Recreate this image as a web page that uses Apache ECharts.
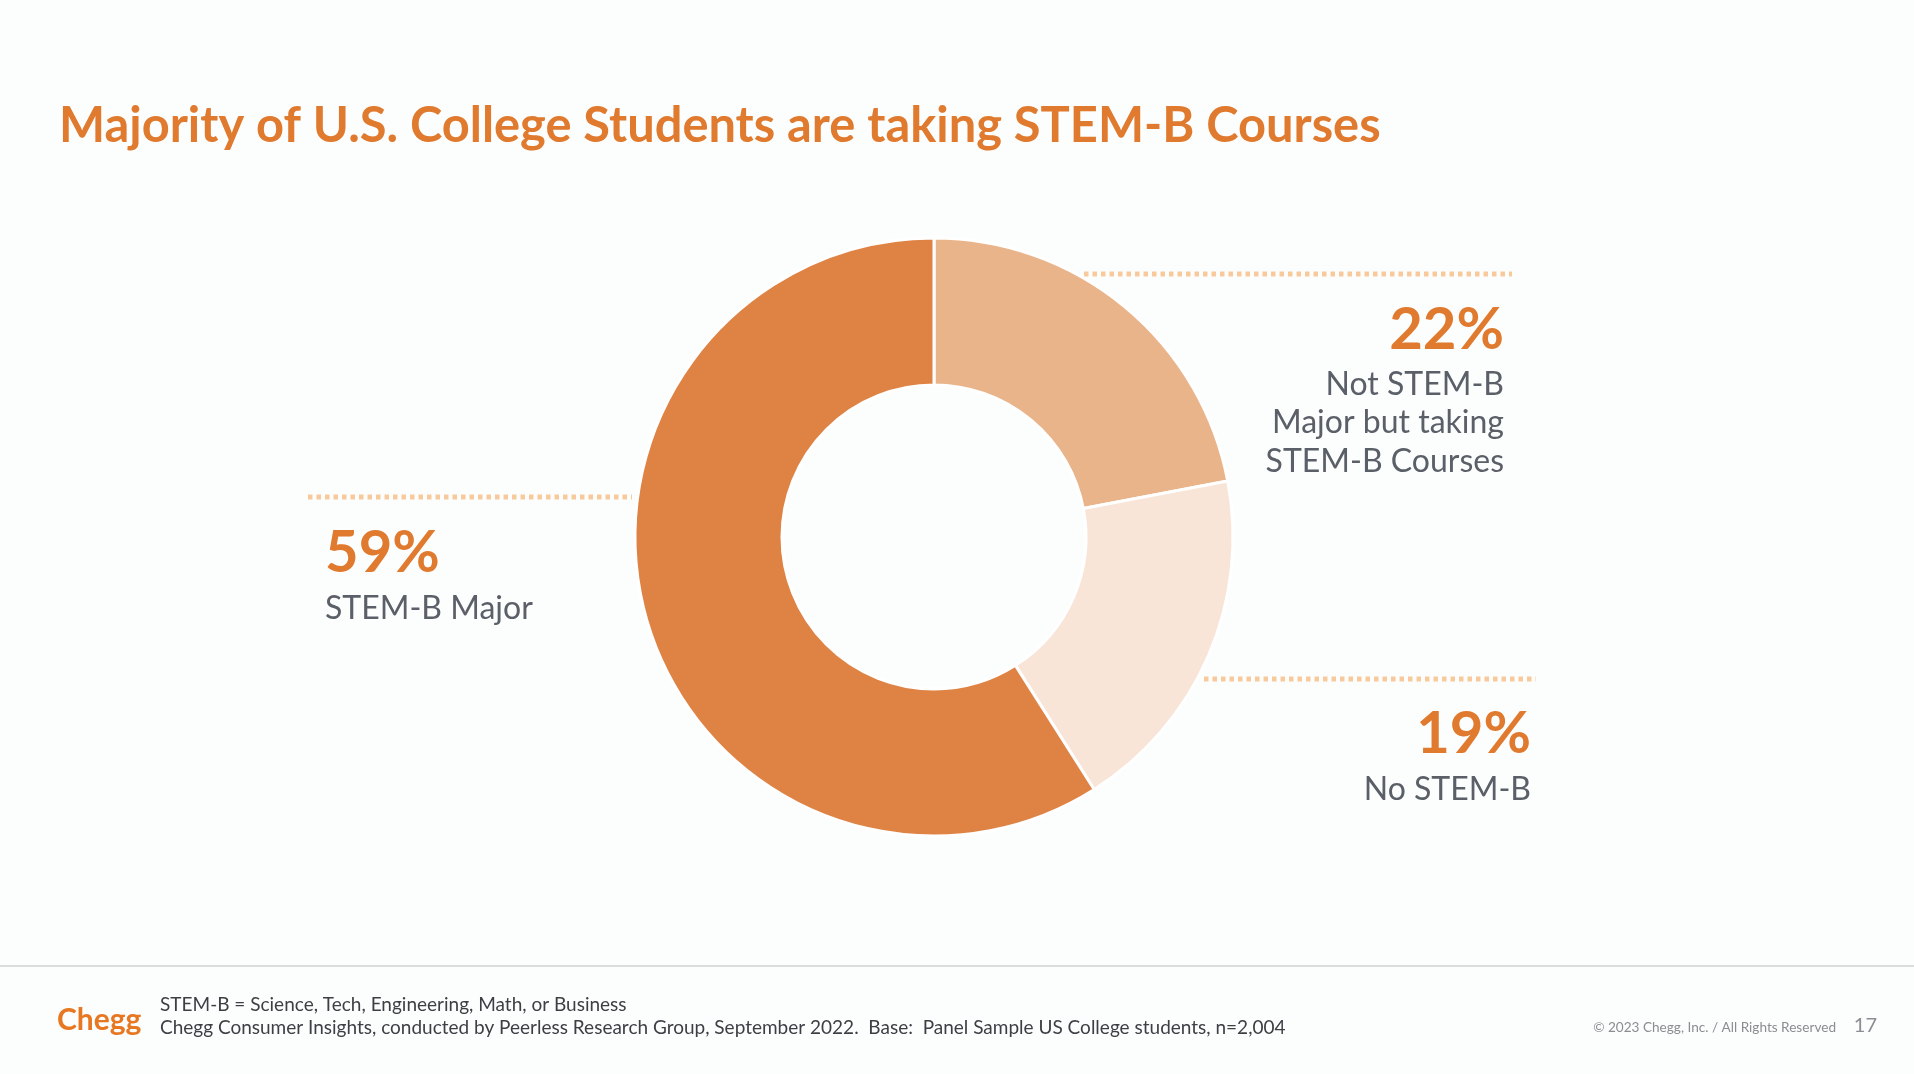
<!DOCTYPE html>
<html>
<head>
<meta charset="utf-8">
<script src="https://cdn.jsdelivr.net/npm/echarts@6/dist/echarts.min.js"></script>
<style>
html,body{margin:0;padding:0;background:#fcfefe;}
#c{width:1914px;height:1074px;}
</style>
</head>
<body>
<div id="c"></div>
<script>
var titleText = 'Majority of U.S. College Students are taking STEM-B Courses';
var categories = ['Not STEM-B Major but taking STEM-B Courses', 'No STEM-B', 'STEM-B Major'];
var labelLines = [['Not STEM-B', 'Major but taking', 'STEM-B Courses'], ['No STEM-B'], ['STEM-B Major']];
var values = [22, 19, 59];
var colors = ['#eab48a', '#f8e5d8', '#df8345'];
var footnotes = ['STEM-B = Science, Tech, Engineering, Math, or Business',
  'Chegg Consumer Insights, conducted by Peerless Research Group, September 2022.  Base:  Panel Sample US College students, n=2,004'];
var copyrightText = '\u00a9 2023 Chegg, Inc. / All Rights Reserved';
var pageNumber = '17';

var chart = echarts.init(document.getElementById('c'));
var orange = '#e07a2e';
var grey = '#5b6068';
var dotColor = '#f8ca9b';
var font = 'Lato, "Open Sans", sans-serif';

function dotted(x1, y1, x2) {
  return {type: 'line', shape: {x1: x1, y1: y1, x2: x2, y2: y1},
    style: {stroke: dotColor, lineWidth: 5, lineDash: [4.5, 4]}};
}
function txt(x, y, text, size, color, weight, align, lh) {
  return {type: 'text', x: x, y: y, style: {text: text, fontSize: size, fill: color,
    fontWeight: weight, fontFamily: font, align: align, verticalAlign: 'middle', lineHeight: lh || size}};
}

var graphics = [
  txt(59, 126, titleText, 48.8, orange, 'bold', 'left'),
  dotted(1084, 274, 1512),
  dotted(308, 497, 632),
  dotted(1204, 679, 1536),
  txt(1504, 330, values[0] + '%', 58, orange, 'bold', 'right'),
  txt(1504, 423, labelLines[0].join('\n'), 32, grey, 'normal', 'right', 38.5),
  txt(1531, 734, values[1] + '%', 58, orange, 'bold', 'right'),
  txt(1531, 790, labelLines[1].join('\n'), 32, grey, 'normal', 'right'),
  txt(325, 553, values[2] + '%', 58, orange, 'bold', 'left'),
  txt(325, 609, labelLines[2].join('\n'), 32, grey, 'normal', 'left'),
  {type: 'rect', shape: {x: 0, y: 965, width: 1914, height: 2}, style: {fill: '#dcdcdc'}},
  txt(57, 1020, 'Chegg', 30, '#e87722', 'bold', 'left'),
  txt(160, 1005, footnotes[0], 19, '#3c3f44', 'normal', 'left'),
  txt(160, 1028, footnotes[1], 19, '#3c3f44', 'normal', 'left'),
  txt(1836, 1028, copyrightText, 13.6, '#8a8d91', 'normal', 'right'),
  txt(1877, 1026, pageNumber, 20, '#8a8d91', 'normal', 'right')
];

chart.setOption({
  backgroundColor: '#fcfefe',
  animation: false,
  graphic: graphics,
  series: [{
    type: 'pie',
    center: [934, 537],
    radius: [152, 299],
    startAngle: 90,
    clockwise: true,
    label: {show: false},
    labelLine: {show: false},
    itemStyle: {borderColor: '#ffffff', borderWidth: 3},
    emphasis: {disabled: true},
    data: categories.map(function (c, i) {
      return {name: c, value: values[i], itemStyle: {color: colors[i]}};
    })
  }]
});
</script>
</body>
</html>
